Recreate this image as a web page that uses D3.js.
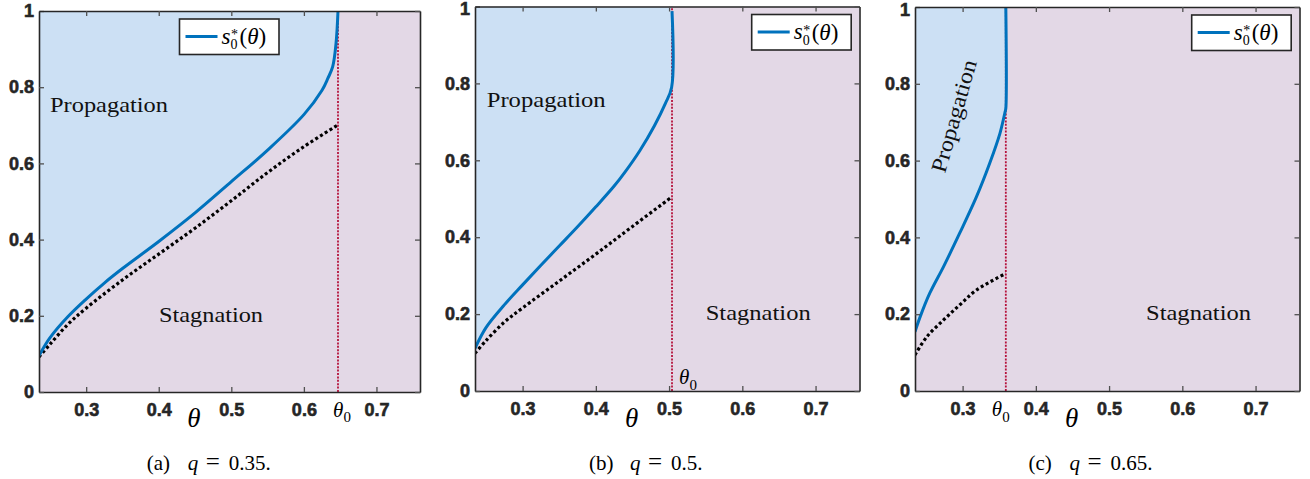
<!DOCTYPE html>
<html>
<head>
<meta charset="utf-8">
<script src="https://cdn.jsdelivr.net/npm/d3@7"></script>
<style>
body { margin: 0; background: #fff; }
</style>
</head>
<body>
<svg id="chart" width="1310" height="479"></svg>
<script>
// values
const thetaDomain = [0.235, 0.76]
const xTickVals = [0.3, 0.4, 0.5, 0.6, 0.7]
const yTickVals = [0, 0.2, 0.4, 0.6, 0.8, 1]
const panelLetters = ['a', 'b', 'c']
const qValues = ['0.35', '0.5', '0.65']
const theta0 = [0.647, 0.504, 0.359]

// s0*(theta), panel a
const blueThetaA = [0.235, 0.25, 0.275, 0.30, 0.325, 0.35, 0.40, 0.45, 0.50, 0.55, 0.60, 0.625, 0.633, 0.6397, 0.6443, 0.647]
const blueSA     = [0.095, 0.142, 0.198, 0.244, 0.286, 0.324, 0.395, 0.470, 0.552, 0.635, 0.728, 0.792, 0.823, 0.854, 0.915, 1.0]
// dotted curve, panel a
const dotThetaA = [0.235, 0.25, 0.275, 0.30, 0.35, 0.40, 0.45, 0.50, 0.55, 0.60, 0.647]
const dotSA     = [0.092, 0.125, 0.178, 0.220, 0.294, 0.362, 0.430, 0.502, 0.576, 0.644, 0.701]

// panel b
const blueThetaB = [0.235, 0.25, 0.275, 0.30, 0.325, 0.35, 0.375, 0.40, 0.425, 0.44, 0.46, 0.48, 0.495, 0.5035, 0.504]
const blueSB     = [0.111, 0.165, 0.224, 0.276, 0.327, 0.377, 0.427, 0.479, 0.533, 0.570, 0.625, 0.690, 0.748, 0.790, 0.988]
const dotThetaB = [0.235, 0.25, 0.275, 0.30, 0.35, 0.40, 0.45, 0.504]
const dotSB     = [0.098, 0.131, 0.179, 0.216, 0.286, 0.356, 0.428, 0.505]

// panel c
const blueThetaC = [0.235, 0.242, 0.255, 0.274, 0.296, 0.319, 0.337, 0.351, 0.358, 0.359, 0.359]
const blueSC     = [0.1545, 0.193, 0.254, 0.324, 0.411, 0.506, 0.593, 0.671, 0.727, 0.736, 1.0]
const dotThetaC = [0.235, 0.251, 0.274, 0.296, 0.319, 0.359]
const dotSC     = [0.094, 0.141, 0.185, 0.224, 0.263, 0.306]

const svg = d3.select('#chart')
const serif = "'Liberation Serif', 'DejaVu Serif', serif"
const sans = "'Liberation Sans', Arial, sans-serif"
const blue = '#0072bd'
const blueFill = '#cce0f4'
const pinkFill = '#e3d8e6'
const axisColor = '#262626'

svg.append('rect').attr('width', 1310).attr('height', 479).attr('fill', '#fff')

const zip = (a, b) => a.map((v, i) => [v, b[i]])

const panels = [
	{ left: 39, right: 420, top: 11, bottom: 392,
	  blue: zip(blueThetaA, blueSA), dots: zip(dotThetaA, dotSA),
	  legend: [179.5, 19], thetaX: 194, cap: 211.7,
	  th0: [333, 416.5],
	  prop: { x: 50, y: 112, len: 118 }, stag: { x: 159, y: 321.5, len: 104 } },
	{ left: 475, right: 859.5, top: 6.5, bottom: 391,
	  blue: zip(blueThetaB, blueSB), dots: zip(dotThetaB, dotSB),
	  legend: [751.7, 14.5], thetaX: 631.7, cap: 654,
	  th0: [679, 384],
	  prop: { x: 486.7, y: 107.3, len: 119 }, stag: { x: 705.7, y: 319.5, len: 105 } },
	{ left: 915, right: 1299.5, top: 7, bottom: 391,
	  blue: zip(blueThetaC, blueSC), dots: zip(dotThetaC, dotSC),
	  legend: [1191.7, 15], thetaX: 1071.7, cap: 1093.5,
	  th0: [991.7, 416],
	  prop: { x: 961, y: 118, len: 116, rot: -74 }, stag: { x: 1146, y: 320, len: 105 } }
]

panels.forEach((p, i) => {
	const x = d3.scaleLinear().domain(thetaDomain).range([p.left, p.right])
	const y = d3.scaleLinear().domain([0, 1]).range([p.bottom, p.top])
	const g = svg.append('g').attr('class', 'panel')

	const clipId = 'clip' + i
	g.append('clipPath').attr('id', clipId)
		.append('rect')
		.attr('x', p.left).attr('y', p.top)
		.attr('width', p.right - p.left).attr('height', p.bottom - p.top)

	const plot = g.append('g').attr('clip-path', `url(#${clipId})`)

	// stagnation background
	plot.append('rect')
		.attr('x', p.left).attr('y', p.top)
		.attr('width', p.right - p.left).attr('height', p.bottom - p.top)
		.attr('fill', pinkFill)

	const line = d3.line()
		.x(d => x(d[0]))
		.y(d => y(d[1]))
		.curve(d3.curveCatmullRom.alpha(0.5))

	// propagation region: left of / above s0*
	const last = p.blue[p.blue.length - 1]
	const first = p.blue[0]
	plot.append('path')
		.attr('d', line(p.blue) + `L${x(last[0])},${y(1)}L${x(first[0])},${y(1)}Z`)
		.attr('fill', blueFill)

	plot.append('path')
		.attr('d', line(p.dots))
		.attr('fill', 'none')
		.attr('stroke', '#000')
		.attr('stroke-width', 3.2)
		.attr('stroke-dasharray', '3,2.6')

	plot.append('line')
		.attr('x1', x(theta0[i])).attr('x2', x(theta0[i]))
		.attr('y1', y(0)).attr('y2', y(1))
		.attr('stroke', '#b5123c')
		.attr('stroke-width', 1.8)
		.attr('stroke-dasharray', '2,1.4')

	plot.append('path')
		.attr('d', line(p.blue))
		.attr('fill', 'none')
		.attr('stroke', blue)
		.attr('stroke-width', 3)

	// axes, ticks inward on all four sides
	const fmt = d => (d === 0 || d === 1) ? String(d) : d.toFixed(1)
	const axes = [
		g.append('g').attr('transform', `translate(0,${p.bottom})`)
			.call(d3.axisBottom(x).tickValues(xTickVals).tickSize(-5).tickSizeOuter(0).tickPadding(11).tickFormat(d3.format('.1f'))),
		g.append('g').attr('transform', `translate(${p.left},0)`)
			.call(d3.axisLeft(y).tickValues(yTickVals).tickSize(-5).tickSizeOuter(0).tickPadding(5).tickFormat(fmt)),
		g.append('g').attr('transform', `translate(0,${p.top})`)
			.call(d3.axisTop(x).tickValues(xTickVals).tickSize(-5).tickSizeOuter(0).tickFormat('')),
		g.append('g').attr('transform', `translate(${p.right},0)`)
			.call(d3.axisRight(y).tickValues(yTickVals).tickSize(-5).tickSizeOuter(0).tickFormat(''))
	]
	axes.forEach(a => {
		a.select('.domain').attr('stroke', axisColor).attr('stroke-width', 1.6)
		a.selectAll('.tick line').attr('stroke', '#505050').attr('stroke-width', 1.3)
		a.selectAll('.tick text')
			.attr('fill', axisColor)
			.attr('stroke', axisColor)
			.attr('stroke-width', 0.6)
			.style('font-family', sans)
			.style('font-weight', 'bold')
			.style('font-size', '18px')
	})
	// keep the top "1" label inside the picture
	axes[1].selectAll('.tick text').filter(d => d === 1 && p.top < 10).attr('dy', '0.45em')

	// region labels
	g.append('text')
		.attr('transform', p.prop.rot !== undefined
			? `translate(${p.prop.x},${p.prop.y}) rotate(${p.prop.rot})`
			: `translate(${p.prop.x},${p.prop.y})`)
		.attr('text-anchor', p.prop.rot !== undefined ? 'middle' : 'start')
		.attr('textLength', p.prop.len)
		.attr('lengthAdjust', 'spacingAndGlyphs')
		.style('font-family', serif).style('font-size', '22px')
		.attr('fill', '#111')
		.text('Propagation')

	g.append('text')
		.attr('x', p.stag.x).attr('y', p.stag.y)
		.attr('textLength', p.stag.len)
		.attr('lengthAdjust', 'spacingAndGlyphs')
		.style('font-family', serif).style('font-size', '22px')
		.attr('fill', '#111')
		.text('Stagnation')

	// legend
	const [bx, by] = p.legend
	g.append('rect')
		.attr('x', bx).attr('y', by).attr('width', 99.5).attr('height', 35.5)
		.attr('fill', '#fff').attr('stroke', axisColor).attr('stroke-width', 1.6)
	g.append('line')
		.attr('x1', bx + 6).attr('x2', bx + 38)
		.attr('y1', by + 17.5).attr('y2', by + 17.5)
		.attr('stroke', blue).attr('stroke-width', 3)
	g.append('text').attr('x', bx + 42).attr('y', by + 24.5)
		.style('font-family', serif).style('font-size', '23px').style('font-style', 'italic')
		.text('s')
	g.append('text').attr('x', bx + 51.5).attr('y', by + 20)
		.style('font-family', serif).style('font-size', '14px')
		.text('*')
	g.append('text').attr('x', bx + 51).attr('y', by + 30)
		.style('font-family', serif).style('font-size', '14px')
		.text('0')
	const lt = g.append('text').attr('x', bx + 60).attr('y', by + 25)
		.style('font-family', serif).style('font-size', '23px')
	lt.append('tspan').text('(')
	lt.append('tspan').style('font-style', 'italic').text('θ')
	lt.append('tspan').text(')')

	// theta axis label
	g.append('text')
		.attr('x', p.thetaX).attr('y', 427)
		.attr('text-anchor', 'middle')
		.style('font-family', serif).style('font-size', '27px').style('font-style', 'italic')
		.text('θ')

	// theta_0 label
	g.append('text').attr('x', p.th0[0]).attr('y', p.th0[1])
		.style('font-family', serif).style('font-size', '21px').style('font-style', 'italic')
		.text('θ')
	g.append('text').attr('x', p.th0[0] + 10.5).attr('y', p.th0[1] + 5.5)
		.style('font-family', serif).style('font-size', '15px')
		.text('0')

	// caption
	const c = p.cap
	const capY = 470
	const cap = (tx, t, italic, size) => g.append('text').attr('x', tx).attr('y', capY)
		.style('font-family', serif).style('font-size', (size || 21) + 'px')
		.style('font-style', italic ? 'italic' : 'normal')
		.text(t)
	cap(c - 65, `(${panelLetters[i]})`)
	cap(c - 24, 'q', true)
	cap(c - 6, '=', false, 25)
	cap(c + 17, `${qValues[i]}.`)
})
</script>
</body>
</html>
